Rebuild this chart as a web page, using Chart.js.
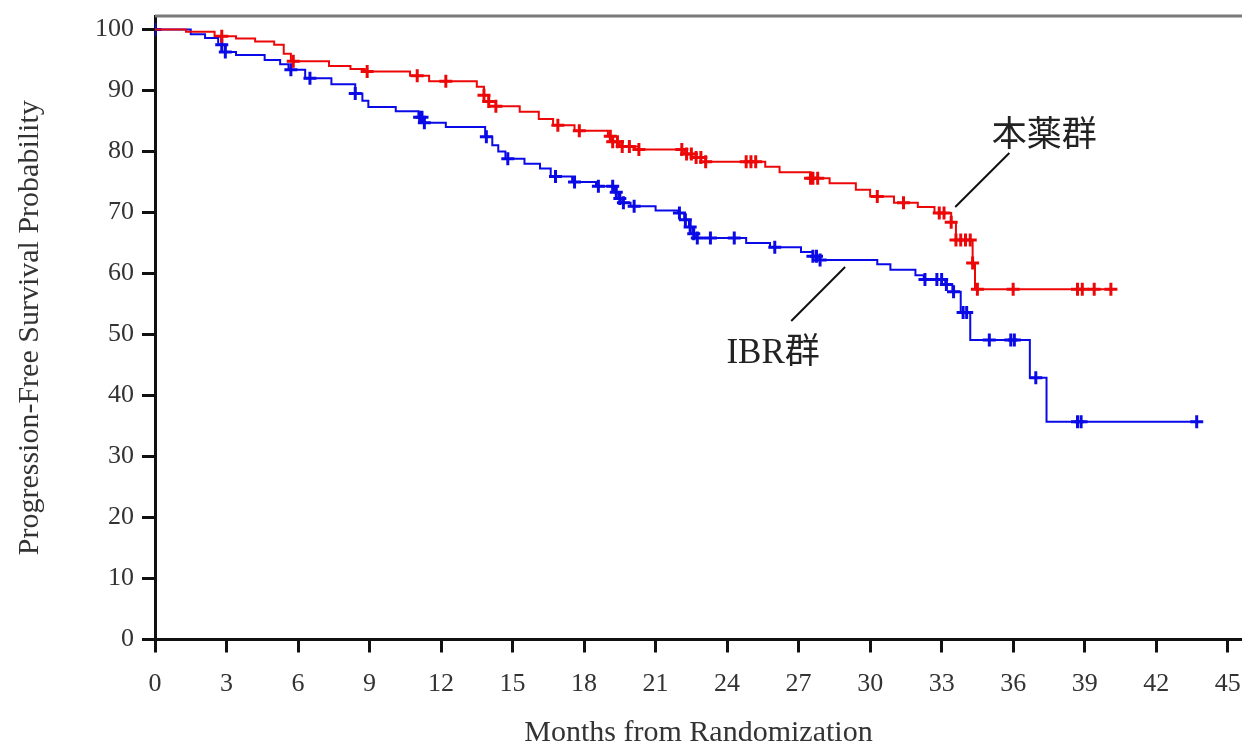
<!DOCTYPE html>
<html>
<head>
<meta charset="utf-8">
<script src="https://cdn.jsdelivr.net/npm/chart.js@4.4.1/dist/chart.umd.min.js"></script>
<style>
  html, body { margin: 0; padding: 0; background: #fff; }
</style>
</head>
<body>
<canvas id="kmChart" width="1242" height="744"></canvas>
<script>
// Ejes
const xTicks = [0, 3, 6, 9, 12, 15, 18, 21, 24, 27, 30, 33, 36, 39, 42, 45];
const yTicks = [0, 10, 20, 30, 40, 50, 60, 70, 80, 90, 100];

// 本薬群: curva escalonada (meses, %)
const drugTime = [0, 1.3, 2.5, 3.4, 4.2, 5.0, 5.4, 5.7, 7.3, 8.2,
  8.8, 10.7, 11.5, 13.5, 13.8, 14.0, 14.3, 15.3, 16.1, 16.7,
  17.6, 19.0, 19.2, 19.5, 20.3, 22.2, 22.7, 23.1, 25.6, 26.2,
  27.5, 28.3, 29.4, 30.0, 31.0, 32.0, 32.7, 33.4, 33.6, 34.3,
  34.4, 40.2];
const drugSurv = [100, 99.6, 98.9, 98.5, 98.0, 97.5, 96.0, 94.8, 94.0, 93.5,
  93.1, 92.4, 91.5, 90.6, 89.2, 88.2, 87.4, 86.5, 85.3, 84.3,
  83.4, 82.5, 81.6, 80.8, 80.3, 79.6, 79.0, 78.3, 77.5, 76.6,
  75.6, 74.8, 73.7, 72.6, 71.6, 70.9, 69.9, 68.4, 65.5, 61.7,
  57.4, 57.4];
// 本薬群: censurados (+)
const drugCensorTime = [2.8, 5.8, 8.9, 11.0, 12.2, 13.8, 14.0, 14.3, 16.9, 17.8,
  19.1, 19.2, 19.4, 19.6, 19.9, 20.3, 22.1, 22.3, 22.5, 22.7,
  22.9, 23.1, 24.8, 25.0, 25.2, 27.5, 27.6, 27.8, 30.3, 31.4,
  32.9, 33.1, 33.4, 33.6, 33.8, 34.0, 34.2, 34.3, 34.5, 36.0,
  38.7, 38.9, 39.4, 40.1];
const drugCensorSurv = [98.9, 94.8, 93.1, 92.4, 91.5, 89.2, 88.2, 87.4, 84.3, 83.4,
  82.5, 81.6, 81.6, 80.8, 80.8, 80.3, 80.3, 79.6, 79.6, 79.0,
  79.0, 78.3, 78.3, 78.3, 78.3, 75.6, 75.6, 75.6, 72.6, 71.6,
  69.9, 69.9, 68.4, 65.5, 65.5, 65.5, 65.5, 61.7, 57.4, 57.4,
  57.4, 57.4, 57.4, 57.4];

// IBR群: curva escalonada
const ibrTime = [0, 1.5, 2.1, 2.65, 2.95, 3.4, 4.6, 5.25, 5.6, 6.3,
  7.4, 8.4, 8.7, 8.95, 10.1, 11.05, 11.3, 12.2, 13.85, 14.15,
  14.4, 14.7, 15.5, 16.15, 16.6, 17.5, 18.5, 19.3, 19.45, 19.6,
  19.95, 21.0, 21.95, 22.2, 22.4, 22.55, 22.7, 24.8, 25.8, 27.1,
  27.6, 27.8, 30.3, 30.85, 31.9, 32.25, 33.15, 33.45, 33.8, 34.2,
  36.7, 37.4, 43.7];
const ibrSurv = [100, 99.2, 98.6, 97.5, 96.3, 95.8, 95.0, 94.3, 93.4, 92.0,
  91.0, 89.5, 88.3, 87.3, 86.6, 85.6, 84.7, 84.0, 82.4, 81.0,
  80.0, 78.8, 78.0, 77.2, 75.9, 75.0, 74.3, 73.3, 72.3, 71.6,
  71.0, 70.3, 69.9, 68.8, 67.6, 66.5, 65.8, 65.0, 64.3, 63.5,
  62.8, 62.2, 61.5, 60.6, 59.7, 59.0, 58.2, 57.0, 53.6, 49.1,
  42.9, 35.7, 35.7];
// IBR群: censurados (+)
const ibrCensorTime = [0, 2.8, 2.95, 5.7, 6.5, 8.4, 11.1, 11.2, 11.3, 13.9,
  14.8, 16.8, 17.6, 18.6, 19.2, 19.35, 19.5, 19.65, 20.1, 22.0,
  22.25, 22.45, 22.6, 22.75, 23.3, 24.3, 26.0, 27.6, 27.75, 27.9,
  32.3, 32.8, 33.0, 33.2, 33.5, 33.9, 34.05, 35.0, 35.9, 36.05,
  36.95, 38.7, 38.85, 43.7];
const ibrCensorSurv = [100, 97.5, 96.3, 93.4, 92.0, 89.5, 85.6, 85.6, 84.7, 82.4,
  78.8, 75.9, 75.0, 74.3, 74.3, 73.3, 72.3, 71.6, 71.0, 69.9,
  68.8, 67.6, 66.5, 65.8, 65.8, 65.8, 64.3, 62.8, 62.8, 62.2,
  59.0, 59.0, 59.0, 58.2, 57.0, 53.6, 53.6, 49.1, 49.1, 49.1,
  42.9, 35.7, 35.7, 35.7];

const RED = 'rgb(236, 8, 8)';
const BLUE = 'rgb(10, 10, 230)';
const SERIF = '"Liberation Serif", "Times New Roman", serif';
const CJK = '"Liberation Serif", "Noto Sans CJK JP", serif';

const toPoints = (t, s) => t.map((v, i) => ({ x: v, y: s[i] }));

// Línea gris superior del marco
const topFrame = {
  id: 'topFrame',
  afterDraw(chart) {
    const { ctx, chartArea } = chart;
    ctx.save();
    ctx.strokeStyle = '#7a7a7a';
    ctx.lineWidth = 3;
    ctx.beginPath();
    ctx.moveTo(chartArea.left, chartArea.top);
    ctx.lineTo(chart.width, chartArea.top);
    ctx.stroke();
    ctx.restore();
  }
};

// Etiquetas de grupo con su línea guía
const groupLabels = {
  id: 'groupLabels',
  afterDatasetsDraw(chart) {
    const { ctx, scales: { x, y } } = chart;
    const px = v => x.getPixelForValue(v);
    const py = v => y.getPixelForValue(v);
    ctx.save();
    ctx.strokeStyle = '#111';
    ctx.lineWidth = 2;
    ctx.beginPath();
    ctx.moveTo(px(35.84), py(79.75));
    ctx.lineTo(px(33.57), py(70.9));
    ctx.moveTo(px(26.69), py(52.2));
    ctx.lineTo(px(28.95), py(61.07));
    ctx.stroke();
    ctx.fillStyle = '#222';
    ctx.textAlign = 'center';
    ctx.textBaseline = 'middle';
    ctx.font = '35px ' + CJK;
    ctx.fillText('本薬群', px(37.3), py(82.4));
    ctx.fillText('IBR群', px(25.93), py(46.8));
    ctx.restore();
  }
};

new Chart(document.getElementById('kmChart'), {
  type: 'line',
  data: {
    datasets: [
      { label: '本薬群', data: toPoints(drugTime, drugSurv), borderColor: RED, borderWidth: 2,
        stepped: 'before', pointRadius: 0, fill: false },
      { label: 'IBR群', data: toPoints(ibrTime, ibrSurv), borderColor: BLUE, borderWidth: 2,
        stepped: 'before', pointRadius: 0, fill: false },
      { label: '本薬群 censored', data: toPoints(drugCensorTime, drugCensorSurv), showLine: false,
        pointStyle: 'cross', pointRadius: 6.5, borderColor: RED, pointBorderWidth: 3 },
      { label: 'IBR群 censored', data: toPoints(ibrCensorTime, ibrCensorSurv), showLine: false,
        pointStyle: 'cross', pointRadius: 6.5, borderColor: BLUE, pointBorderWidth: 3 }
    ]
  },
  options: {
    responsive: false,
    animation: false,
    layout: { autoPadding: false, padding: { top: 16, right: 0, bottom: 0, left: 0 } },
    plugins: { legend: { display: false }, tooltip: { enabled: false } },
    scales: {
      x: {
        type: 'linear', min: 0, max: 45.6,
        afterBuildTicks: s => { s.ticks = xTicks.map(v => ({ value: v })); },
        afterFit: s => { s.height = 104.5; s.paddingLeft = 0; s.paddingRight = 0; },
        ticks: { font: { family: SERIF, size: 26 }, color: '#333', padding: 16, maxRotation: 0 },
        grid: { drawOnChartArea: false, drawTicks: true, tickLength: 13, tickWidth: 3, tickColor: '#111' },
        border: { color: '#111', width: 3 },
        title: { display: true, text: 'Months from Randomization', color: '#333',
          font: { family: SERIF, size: 30, lineHeight: 1 }, padding: { top: 0, bottom: -4 } }
      },
      y: {
        type: 'linear', min: 0, max: 102.2,
        afterBuildTicks: s => { s.ticks = yTicks.map(v => ({ value: v })); },
        afterFit: s => { s.width = 155; s.paddingTop = 0; s.paddingBottom = 0; },
        ticks: { font: { family: SERIF, size: 26 }, color: '#333', padding: 8 },
        grid: { drawOnChartArea: false, drawTicks: true, tickLength: 13, tickWidth: 3, tickColor: '#111' },
        border: { color: '#111', width: 3 },
        title: { display: true, text: 'Progression-Free Survival Probability', color: '#333',
          font: { family: SERIF, size: 30 }, padding: { top: 12, bottom: 0 } }
      }
    }
  },
  plugins: [topFrame, groupLabels]
});
</script>
</body>
</html>
